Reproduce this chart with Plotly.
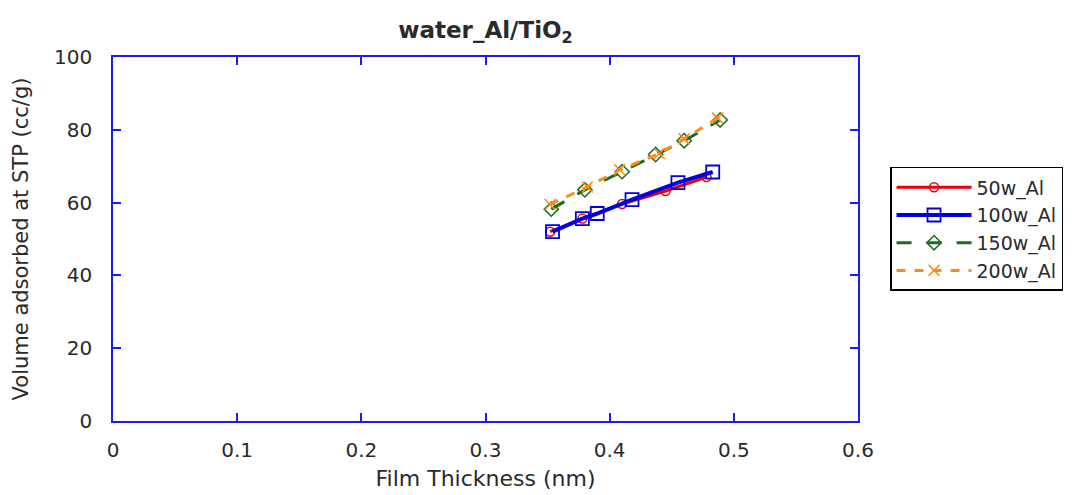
import plotly.graph_objects as go

# Data
x_50 = [0.352, 0.378, 0.410, 0.445, 0.478]
y_50 = [52.0, 55.6, 59.6, 63.2, 67.0]

x_100 = [0.354, 0.378, 0.390, 0.418, 0.455, 0.483]
y_100 = [52.0, 55.6, 57.0, 60.8, 65.5, 68.4]

x_150 = [0.353, 0.380, 0.410, 0.437, 0.460, 0.489]
y_150 = [58.2, 63.5, 68.5, 73.2, 77.0, 82.7]

x_200 = [0.352, 0.382, 0.408, 0.440, 0.460, 0.487]
y_200 = [59.5, 64.3, 69.0, 73.5, 77.5, 83.2]

x_ticks = [0, 0.1, 0.2, 0.3, 0.4, 0.5, 0.6]
y_ticks = [0, 20, 40, 60, 80, 100]

FONT = "DejaVu Sans, Liberation Sans, Arial, sans-serif"
TXT = "#2a2a2a"

fig = go.Figure()
fig.add_trace(go.Scatter(
    x=x_50, y=y_50, name="50w_Al", mode="lines+markers",
    line=dict(color="#e8000b", width=3),
    marker=dict(symbol="circle-open", size=9, color="#e8000b", line=dict(width=1.5))))
fig.add_trace(go.Scatter(
    x=x_100, y=y_100, name="100w_Al", mode="lines+markers",
    line=dict(color="#0000e0", width=4),
    marker=dict(symbol="square-open", size=13, color="#0000e0", line=dict(width=1.8))))
fig.add_trace(go.Scatter(
    x=x_150, y=y_150, name="150w_Al", mode="lines+markers",
    line=dict(color="#1a6e1a", width=3, dash="longdash"),
    marker=dict(symbol="diamond-open", size=11, color="#1a6e1a", line=dict(width=1.5))))
fig.add_trace(go.Scatter(
    x=x_200, y=y_200, name="200w_Al", mode="lines+markers",
    line=dict(color="#ff8c1a", width=3, dash="dash"),
    marker=dict(symbol="x-thin-open", size=11, color="#ff8c1a", line=dict(width=1.5, color="#ff8c1a"))))

axis_common = dict(
    showline=True, linecolor="#1a1aff", linewidth=1.5, mirror="ticks",
    ticks="inside", ticklen=8, tickwidth=1.5, tickcolor="#1a1aff",
    showgrid=False, zeroline=False,
    tickfont=dict(family=FONT, size=20, color=TXT),
)

fig.update_layout(
    width=1072, height=495,
    margin=dict(l=113, r=214, t=57, b=74, autoexpand=False),
    paper_bgcolor="white", plot_bgcolor="white",
    font=dict(family=FONT, size=20, color=TXT),
    title=dict(text="<b>water_Al/TiO<sub>2</sub></b>", x=((113 + 858) / 2 + 0) / 1072, xanchor="center",
               y=1 - 30 / 495, yanchor="middle",
               font=dict(family=FONT, size=23, color=TXT)),
    xaxis=dict(range=[0, 0.6], tickvals=x_ticks, ticktext=[str(v) for v in x_ticks],
               ticklabelstandoff=10,
               title=dict(text="Film Thickness (nm)", font=dict(family=FONT, size=22, color=TXT), standoff=10),
               automargin=False,
               **axis_common),
    yaxis=dict(range=[0, 100], tickvals=y_ticks, ticklabelstandoff=15,
               title=dict(text="Volume adsorbed at STP (cc/g)", font=dict(family=FONT, size=21, color=TXT), standoff=20),
               automargin=False,
               **axis_common),
    legend=dict(x=1.043, y=0.698, xanchor="left", yanchor="top",
                bordercolor="black", borderwidth=1.5, bgcolor="white",
                font=dict(family=FONT, size=19, color=TXT),
                itemwidth=75, tracegroupgap=0),
    showlegend=True,
)

fig.write_html("out.html")
